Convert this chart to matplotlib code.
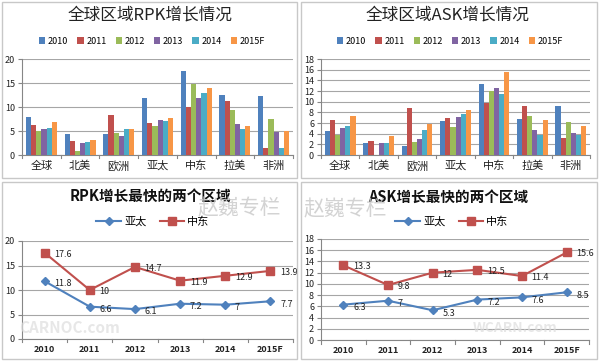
import matplotlib
matplotlib.use('Agg')
import matplotlib.pyplot as plt
import numpy as np
from matplotlib.patches import Rectangle

plt.rcParams['font.family'] = ['Noto Sans CJK SC', 'DejaVu Sans']

regions = ['全球', '北美', '欧洲', '亚太', '中东', '拉美', '非洲']
years = ['2010', '2011', '2012', '2013', '2014', '2015F']

rpk_2010 = [7.9, 4.4, 4.3, 11.8, 17.6, 12.5, 12.3]
rpk_2011 = [6.3, 2.9, 8.4, 6.6, 10.0, 11.3, 1.5]
rpk_2012 = [5.1, 0.9, 4.5, 6.1, 14.7, 9.4, 7.5]
rpk_2013 = [5.4, 2.6, 4.0, 7.2, 11.9, 6.5, 4.7]
rpk_2014 = [5.7, 2.7, 5.4, 7.0, 12.9, 5.4, 1.4]
rpk_2015 = [6.9, 3.1, 5.5, 7.7, 13.9, 6.1, 5.1]

ask_2010 = [4.5, 2.3, 1.7, 6.3, 13.3, 6.7, 9.2]
ask_2011 = [6.5, 2.7, 8.8, 7.0, 9.8, 9.2, 3.2]
ask_2012 = [3.8, 0.0, 2.5, 5.3, 12.0, 7.3, 6.2]
ask_2013 = [5.0, 2.3, 3.0, 7.2, 12.5, 4.7, 4.2]
ask_2014 = [5.4, 2.2, 4.6, 7.6, 11.4, 3.7, 3.7]
ask_2015 = [7.3, 3.5, 5.8, 8.5, 15.6, 6.5, 5.5]

rpk_apac = [11.8, 6.6, 6.1, 7.2, 7.0, 7.7]
rpk_me = [17.6, 10, 14.7, 11.9, 12.9, 13.9]
ask_apac = [6.3, 7, 5.3, 7.2, 7.6, 8.5]
ask_me = [13.3, 9.8, 12, 12.5, 11.4, 15.6]
apac_lbl = ['11.8', '6.6', '6.1', '7.2', '7', '7.7']
me_lbl = ['17.6', '10', '14.7', '11.9', '12.9', '13.9']
ask_apac_lbl = ['6.3', '7', '5.3', '7.2', '7.6', '8.5']
ask_me_lbl = ['13.3', '9.8', '12', '12.5', '11.4', '15.6']

bar_colors = ['#4F81BD', '#C0504D', '#9BBB59', '#8064A2', '#4BACC6', '#F79646']
BLUE = '#4F81BD'
RED = '#C0504D'
GRID = '#A6A6A6'
SPINE = '#868686'

W, H = 600, 362
fig = plt.figure(figsize=(W / 100, H / 100), dpi=100)
fig.patch.set_facecolor('white')


def ax_px(x0, y0, x1, y1):
    return fig.add_axes([x0 / W, 1 - y1 / H, (x1 - x0) / W, (y1 - y0) / H])


def fx(x):
    return x / W


def fy(y):
    return 1 - y / H


# panel borders
for (x0, y0, x1, y1) in [(2, 2, 297, 178), (301, 2, 597, 178), (2, 182, 297, 359), (301, 182, 597, 359)]:
    fig.patches.append(Rectangle((fx(x0), fy(y1)), (x1 - x0) / W, (y1 - y0) / H,
                                 transform=fig.transFigure, fill=False,
                                 edgecolor='#C8C8C8', linewidth=1.0))


def style_axes(ax, ymax, step):
    ax.set_facecolor('none')
    for s in ['top', 'right']:
        ax.spines[s].set_visible(False)
    for s in ['left', 'bottom']:
        ax.spines[s].set_color(SPINE)
        ax.spines[s].set_linewidth(0.8)
    ax.set_ylim(0, ymax)
    ax.set_yticks(np.arange(0, ymax + 0.01, step))
    ax.yaxis.grid(True, color=GRID, linewidth=0.8)
    ax.set_axisbelow(True)
    ax.tick_params(axis='y', labelsize=6.5, length=3, color=SPINE, pad=2, labelcolor='#222222')
    ax.tick_params(axis='x', length=0, labelsize=8, pad=4, labelcolor='#222222')


def bar_chart(ax, series, ymax, step):
    n = len(regions)
    x = np.arange(n)
    gw = 0.8
    bw = gw / len(series)
    for i, (vals, c, lab) in enumerate(zip(series, bar_colors, years)):
        ax.bar(x - gw / 2 + bw * (i + 0.5), vals, width=bw, color=c, label=lab, zorder=3)
    ax.set_xlim(-0.5, n - 0.5)
    style_axes(ax, ymax, step)
    ax.set_xticks(x)
    ax.set_xticklabels(regions, fontsize=8)
    for b in np.arange(-0.5, n, 1.0):
        ax.plot([b, b], [0, -ymax * 0.035], color=SPINE, lw=0.8, clip_on=False)


def line_chart(ax, apac, me, al, ml, ymax, step):
    n = len(years)
    x = np.arange(n)
    ax.plot(x, apac, color=BLUE, lw=1.5, marker='D', ms=4, label='亚太', zorder=4)
    ax.plot(x, me, color=RED, lw=1.5, marker='s', ms=6, label='中东', zorder=4)
    for xi, v, t in zip(x, apac, al):
        ax.annotate(t, (xi, v), xytext=(7, -2), textcoords='offset points', fontsize=6.5,
                    va='center', ha='left', color='#222222', zorder=5)
    for xi, v, t in zip(x, me, ml):
        ax.annotate(t, (xi, v), xytext=(7, -1), textcoords='offset points', fontsize=6.5,
                    va='center', ha='left', color='#222222', zorder=5)
    ax.set_xlim(-0.5, n - 0.5)
    style_axes(ax, ymax, step)
    ax.set_xticks(x)
    ax.set_xticklabels(years, fontsize=6.5, fontweight='bold')
    for b in np.arange(-0.5, n, 1.0):
        ax.plot([b, b], [0, -ymax * 0.035], color=SPINE, lw=0.8, clip_on=False)


# top-left
ax1 = ax_px(22, 59, 293, 155)
bar_chart(ax1, [rpk_2010, rpk_2011, rpk_2012, rpk_2013, rpk_2014, rpk_2015], 20, 5)
fig.text(fx(150), fy(15), '全球区域RPK增长情况', ha='center', va='center', fontsize=12, color='#222222')
h, l = ax1.get_legend_handles_labels()
fig.legend(h, l, loc='center', bbox_to_anchor=(fx(152), fy(41)), ncol=6, frameon=False,
           fontsize=6.5, handlelength=0.7, handleheight=0.7, handletextpad=0.3, columnspacing=1.0)

# top-right
ax2 = ax_px(321, 59, 590, 155)
bar_chart(ax2, [ask_2010, ask_2011, ask_2012, ask_2013, ask_2014, ask_2015], 18, 2)
fig.text(fx(448), fy(15), '全球区域ASK增长情况', ha='center', va='center', fontsize=12, color='#222222')
h, l = ax2.get_legend_handles_labels()
fig.legend(h, l, loc='center', bbox_to_anchor=(fx(450), fy(41)), ncol=6, frameon=False,
           fontsize=6.5, handlelength=0.7, handleheight=0.7, handletextpad=0.3, columnspacing=1.0)

# bottom-left
ax3 = ax_px(22, 241, 293, 339)
line_chart(ax3, rpk_apac, rpk_me, apac_lbl, me_lbl, 20, 5)
fig.text(fx(150), fy(196), 'RPK增长最快的两个区域', ha='center', va='center', fontsize=10.5,
         fontweight='bold', color='#111111')
h, l = ax3.get_legend_handles_labels()
fig.legend(h, l, loc='center', bbox_to_anchor=(fx(153), fy(222)), ncol=2, frameon=False,
           fontsize=8, handlelength=2.2, handletextpad=0.3, columnspacing=1.2)

# bottom-right
ax4 = ax_px(321, 239, 589, 340)
line_chart(ax4, ask_apac, ask_me, ask_apac_lbl, ask_me_lbl, 18, 2)
fig.text(fx(448), fy(197), 'ASK增长最快的两个区域', ha='center', va='center', fontsize=10.5,
         fontweight='bold', color='#111111')
h, l = ax4.get_legend_handles_labels()
fig.legend(h, l, loc='center', bbox_to_anchor=(fx(452), fy(222)), ncol=2, frameon=False,
           fontsize=8, handlelength=2.2, handletextpad=0.3, columnspacing=1.2)

# watermarks
fig.text(fx(239), fy(208), '赵巍专栏', ha='center', va='center', fontsize=15, fontweight='light',
         color='#C8C8C8', alpha=0.8)
fig.text(fx(345), fy(209), '赵巍专栏', ha='center', va='center', fontsize=15, fontweight='light',
         color='#C8C8C8', alpha=0.8)
fig.text(fx(70), fy(328), 'CARNOC.com', ha='center', va='center', fontsize=11, fontweight='bold',
         color='#DDDDDD', alpha=0.7)
fig.text(fx(515), fy(328), 'WCARN.com', ha='center', va='center', fontsize=10, fontweight='bold',
         color='#DDDDDD', alpha=0.7)

fig.savefig('out.png', dpi=100, facecolor='white')
